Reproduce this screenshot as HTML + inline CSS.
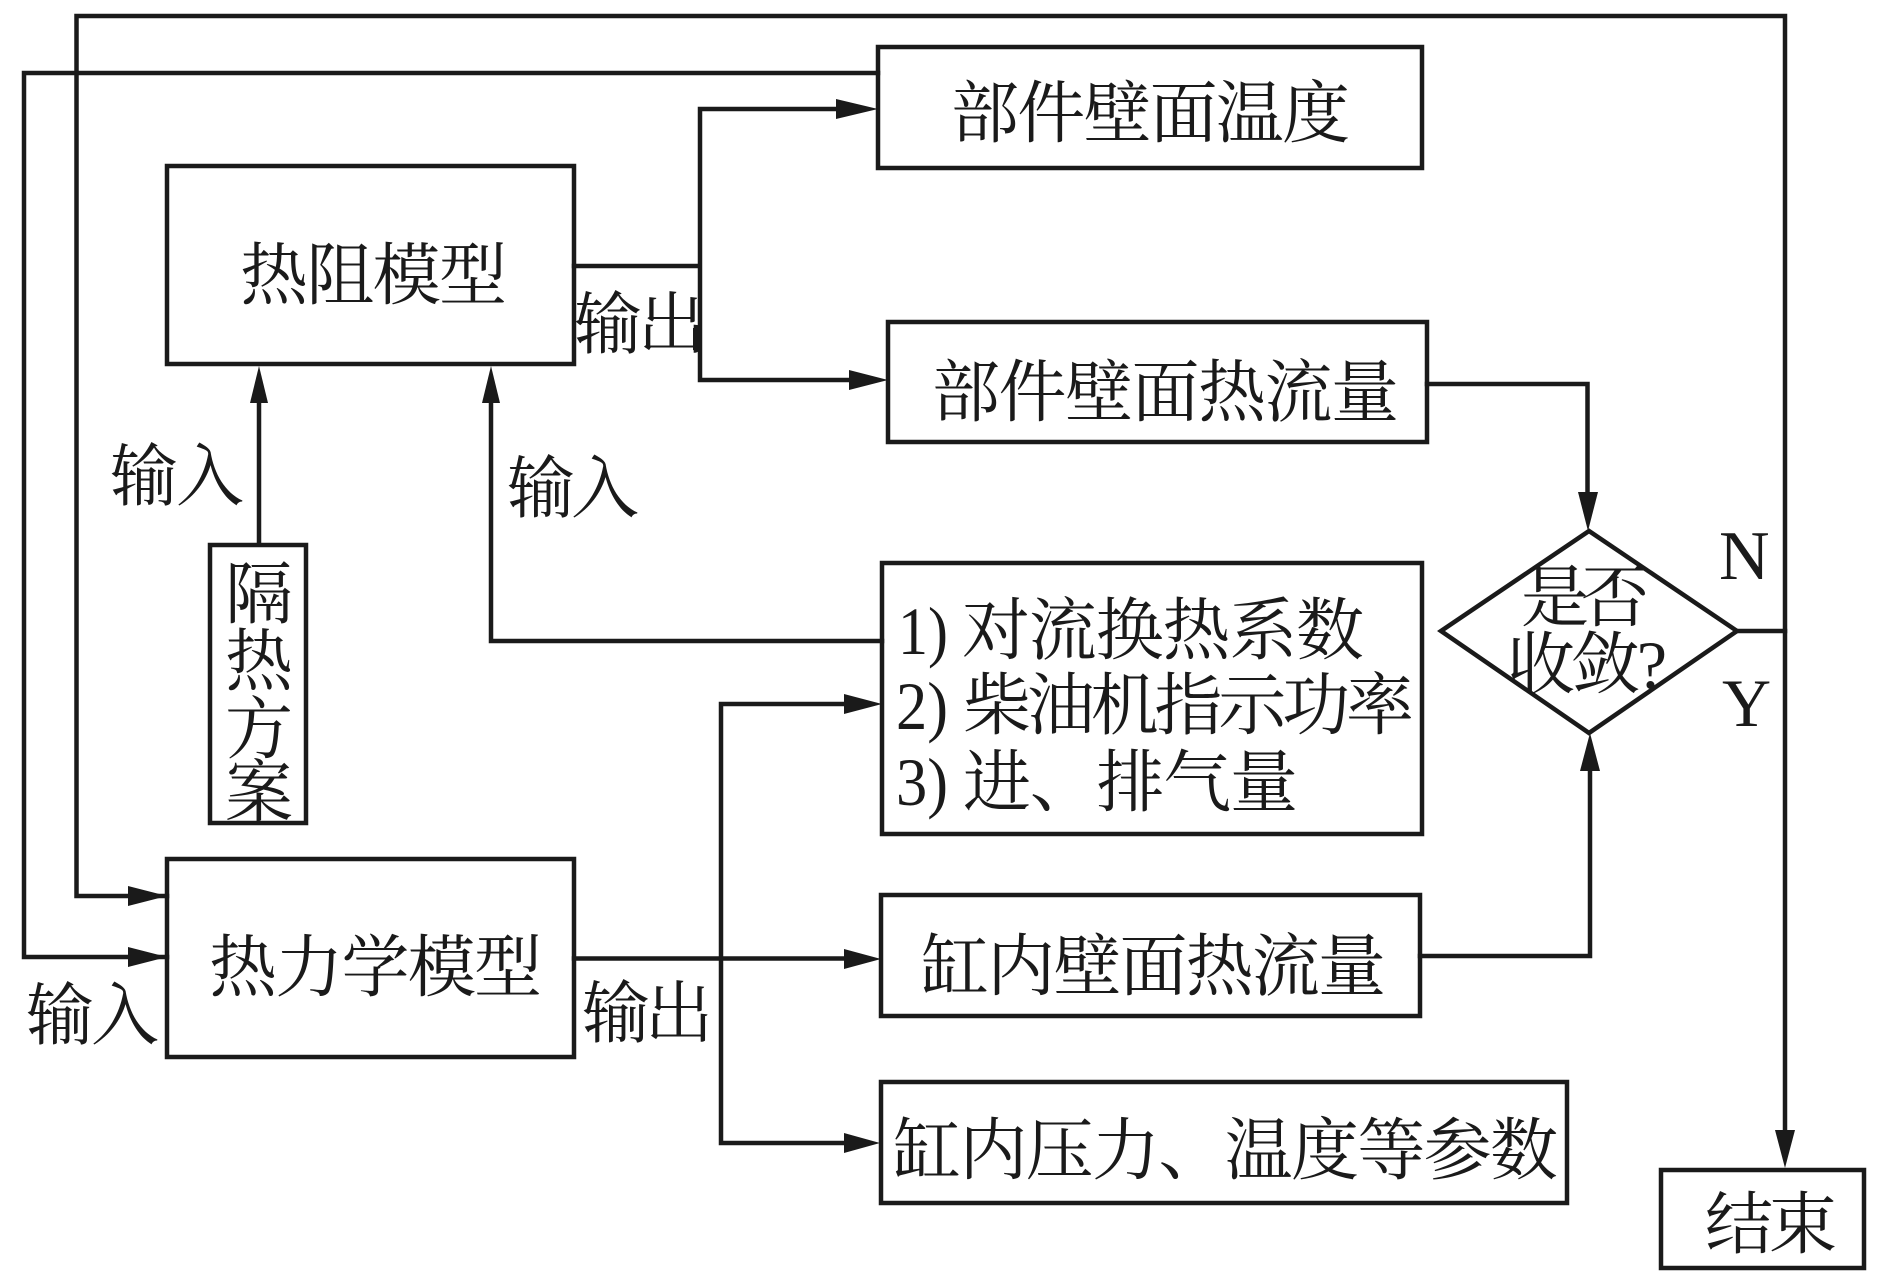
<!DOCTYPE html>
<html><head><meta charset="utf-8"><style>
html,body{margin:0;padding:0;background:#fff}
svg{display:block}
text{font-family:"Liberation Serif","Noto Serif CJK SC",serif;font-size:68px;fill:#1a1a1a}
</style></head><body>
<svg width="1890" height="1284" viewBox="0 0 1890 1284" xmlns="http://www.w3.org/2000/svg">
<rect width="1890" height="1284" fill="#fff"/>
<g fill="none" stroke="#1a1a1a" stroke-width="4.5" stroke-linecap="square">
<rect x="878" y="47" width="544" height="121"/>
<rect x="888" y="322" width="539" height="120"/>
<rect x="882" y="563" width="540" height="271"/>
<rect x="881" y="895" width="539" height="121"/>
<rect x="881" y="1082" width="686" height="121"/>
<rect x="167" y="166" width="407" height="198"/>
<rect x="167" y="859" width="407" height="198"/>
<rect x="210" y="545" width="96" height="278"/>
<rect x="1661" y="1170" width="203" height="98"/>
<polygon points="1441,631 1589,531 1737,631 1589,733"/>
<path d="M167 896H76.5V16H1785V1135M167 957H24V73H878"/>
<path d="M574 266H700M840 109H700V380H852"/>
<path d="M1427 384H1587.5V495"/>
<path d="M259 544V400M491 400V641H882"/>
<path d="M574 958.5H850M850 704H721V1143H850"/>
<path d="M1420 956H1590V768"/>
<path d="M1737 631H1785"/>
</g>
<g fill="#1a1a1a">
<polygon points="878,109 836,99 836,119"/>
<polygon points="888,380 849,370 849,390"/>
<polygon points="1588,531 1578,492 1598,492"/>
<polygon points="1590,733 1580,771 1600,771"/>
<polygon points="1785,1168 1775,1130 1795,1130"/>
<polygon points="259,366 250,403 268,403"/>
<polygon points="491,366 482,403 500,403"/>
<polygon points="167,896 128,886 128,906"/>
<polygon points="167,957 128,947 128,967"/>
<polygon points="882,704 844,694 844,714"/>
<polygon points="881,959 844,949 844,969"/>
<polygon points="880,1143 844,1133 844,1153"/>
<polygon points="693,328 699,328 699,352 693,350"/>
</g>
<text x="951" y="137" textLength="399">部件壁面温度</text>
<text x="932" y="416" textLength="467">部件壁面热流量</text>
<text x="240" y="299" textLength="267">热阻模型</text>
<text x="209" y="991" textLength="333">热力学模型</text>
<text x="921" y="990" textLength="465">缸内壁面热流量</text>
<text x="893" y="1174" textLength="665">缸内压力、温度等参数</text>
<text x="574" y="348" textLength="132">输出</text>
<text x="582" y="1037" textLength="131">输出</text>
<text x="110" y="500" textLength="134">输入</text>
<text x="507" y="512" textLength="132">输入</text>
<text x="26" y="1039" textLength="133">输入</text>
<text x="225" y="618">隔</text>
<text x="225" y="685">热</text>
<text x="225" y="753">方</text>
<text x="225" y="816">案</text>
<text x="898" y="654" textLength="50" lengthAdjust="spacingAndGlyphs">1)</text>
<text x="962" y="654" textLength="402">对流换热系数</text>
<text x="896" y="729" textLength="52" lengthAdjust="spacingAndGlyphs">2)</text>
<text x="963" y="729" textLength="451">柴油机指示功率</text>
<text x="896" y="805" textLength="52" lengthAdjust="spacingAndGlyphs">3)</text>
<text x="963" y="806" textLength="335">进、排气量</text>
<text x="1521" y="621" textLength="128">是否</text>
<text x="1507" y="688" textLength="160">收敛?</text>
<text x="1719" y="579" style="font-size:70px">N</text>
<text x="1722" y="726">Y</text>
<text x="1705" y="1248" textLength="132">结束</text>
</svg>
</body></html>
